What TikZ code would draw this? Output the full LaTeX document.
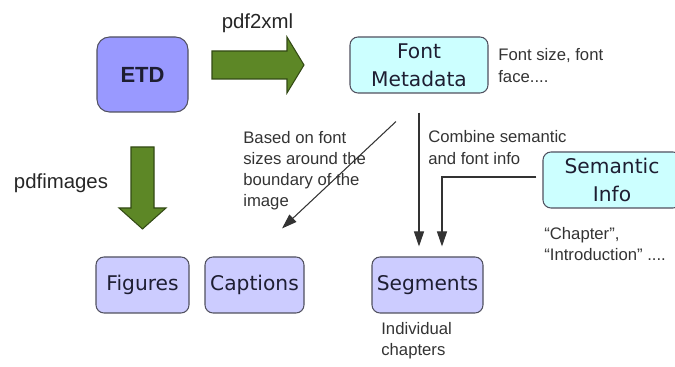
\documentclass[tikz,border=0pt]{standalone}
\usepackage{fontspec}
\setmainfont{Liberation Sans}
\newfontfamily\boxfont{DejaVu Sans}
\usetikzlibrary{arrows.meta}

\definecolor{etdblue}{RGB}{153,153,255}
\definecolor{outblue}{RGB}{204,204,255}
\definecolor{metacyan}{RGB}{204,255,255}
\definecolor{fatgreen}{RGB}{93,135,38}
\definecolor{boxline}{RGB}{80,80,95}
\definecolor{boxtext}{RGB}{30,30,50}

\begin{document}
\begin{tikzpicture}[
        >={Triangle[length=3mm,width=2mm]},
        box/.style={draw=boxline, line width=0.6pt, rounded corners=1.6mm, minimum height=1.12cm, inner sep=0pt, text=boxtext, font=\boxfont\fontsize{11.5}{16}\selectfont},
        fat/.style={fill=fatgreen, draw=fatgreen!55!black, line width=0.6pt},
        note/.style={anchor=west, align=left, inner sep=0pt, text=black!80, font=\fontsize{9.5}{12}\selectfont},
        tool/.style={text=black!85, font=\fontsize{11.6}{14}\selectfont},
        link/.style={draw=black!80, line width=0.6pt}
        ]
            \useasboundingbox (0, 0) rectangle (13.5, 7.34);
            %\draw[lightgray] (0, 0) grid (13.5, 7.34);
            \node[box, fill=etdblue, minimum width=1.82cm, minimum height=1.5cm, rounded corners=2.5mm, font=\bfseries\fontsize{12.5}{15}\selectfont] (etd) at (2.85, 5.85) {ETD};
            \node[box, fill=metacyan, minimum width=2.76cm, align=center] (meta) at (8.38, 6.04) {Font\\Metadata};
            \node[box, fill=metacyan, minimum width=2.76cm, align=center] (sem) at (12.24, 3.74) {Semantic\\Info};
            
            \node[box, fill=outblue, minimum width=1.86cm] (fig) at (2.85, 1.64) {Figures};
            \node[box, fill=outblue, minimum width=1.98cm] (cap) at (5.09, 1.64) {Captions};
            \node[box, fill=outblue, minimum width=2.22cm] (seg) at (8.55, 1.64) {Segments};
            
            \filldraw[fat] (4.24, 5.76) -- (5.74, 5.76) -- (5.74, 5.48) -- (6.08, 6.04) -- (5.74, 6.6) -- (5.74, 6.32) -- (4.24, 6.32) -- cycle;
            \filldraw[fat] (2.62, 4.4) -- (3.08, 4.4) -- (3.08, 3.18) -- (3.32, 3.18) -- (2.85, 2.76) -- (2.38, 3.18) -- (2.62, 3.18) -- cycle;
            
            \node[tool] (xmltool) at (5.15, 6.88) {pdf2xml};
            \node[tool] (imgtool) at (1.22, 3.68) {pdfimages};
            
            \draw[link, ->] ([xshift=-0.46cm, yshift=-0.56cm]meta.south) -- ([xshift=0.55cm, yshift=0.56cm]cap.north);
            \draw[link, ->] ([yshift=-0.38cm]meta.south) -- ([yshift=0.2cm]meta.south |- seg.north);
            \draw[link, ->, shorten <=0.12cm] ([yshift=0.06cm]sem.west) -| ([xshift=0.46cm, yshift=0.2cm]meta.south |- seg.north);
            
            \node[note] (fontnote) at (9.96, 6.03) {Font size, font\\face....};
            \node[note] (basednote) at (4.86, 3.93) {Based on font\\sizes around the\\boundary of the\\image};
            \node[note] (combinenote) at (8.56, 4.39) {Combine semantic\\and font info};
            \node[note] (chapternote) at (10.88, 2.46) {“Chapter”,\\“Introduction” ....};
            \node[note] (segnote) at (7.62, 0.52) {Individual\\chapters};
        \end{tikzpicture}
\end{document}
